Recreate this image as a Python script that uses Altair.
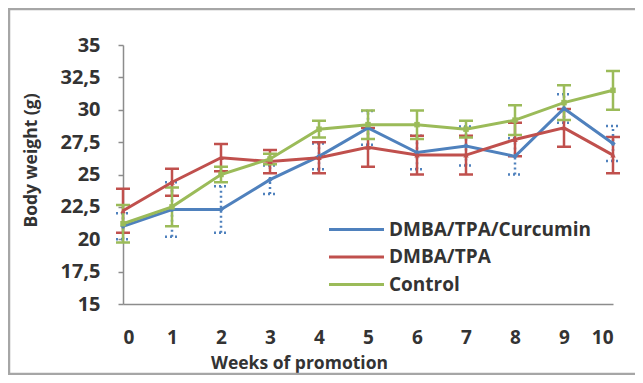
import altair as alt
import pandas as pd

weeks = [0, 1, 2, 3, 4, 5, 6, 7, 8, 9, 10]
series_names = ["DMBA/TPA/Curcumin", "DMBA/TPA", "Control"]
colors = ["#4F81BD", "#C0504D", "#9BBB59"]
shapes = ["diamond", "triangle-up", "square"]
dashes = [[2, 3], [1, 0], [1, 0]]

curcumin = [21.0, 22.3, 22.3, 24.6, 26.4, 28.6, 26.7, 27.2, 26.4, 30.1, 27.4]
curcumin_err = [1.0, 2.1, 1.8, 1.1, 1.0, 1.3, 1.3, 1.5, 1.4, 1.1, 1.35]
tpa = [22.2, 24.4, 26.3, 26.0, 26.3, 27.1, 26.5, 26.5, 27.7, 28.6, 26.5]
tpa_err = [1.7, 1.05, 1.05, 0.9, 1.2, 1.5, 1.5, 1.5, 1.3, 1.45, 1.4]
control = [21.2, 22.5, 25.0, 26.2, 28.5, 28.85, 28.85, 28.5, 29.2, 30.55, 31.5]
control_err = [1.45, 1.5, 0.6, 0.4, 0.65, 1.1, 1.1, 0.65, 1.15, 1.35, 1.5]

y_ticks = [15, 17.5, 20, 22.5, 25, 27.5, 30, 32.5, 35]

rows = []
for name, vals, errs in zip(series_names, [curcumin, tpa, control],
                            [curcumin_err, tpa_err, control_err]):
    for w, v, e in zip(weeks, vals, errs):
        rows.append(dict(week=w, series=name, value=v, lo=v - e, hi=v + e))
df = pd.DataFrame(rows)

FONT = "Open Sans"
TXT = "#333333"
W, H = 490, 259

xscale = alt.Scale(domain=[0, 10], nice=False, zero=False)
yscale = alt.Scale(domain=[15, 35], nice=False, zero=False)
cscale = alt.Scale(domain=series_names, range=colors)

x_axis = alt.Axis(values=weeks, title="Weeks of promotion",
                  labelPadding=24, labelFontSize=19, titlePadding=7,
                  titleX=176, format="d")
y_axis = alt.Axis(values=y_ticks, title="Body  weight (g)",
                  labelExpr="replace(format(datum.value, '~g'), '.', ',')",
                  labelPadding=18, titlePadding=19, titleY=115)
legend = alt.Legend(
    title=None, orient="none", legendX=218, legendY=169,
    symbolType="M-2,0H2", symbolSize=756,
    symbolStrokeWidth=3, labelOffset=17, labelLimit=400,
    labelFontSize=19, labelFont=FONT,
    labelFontWeight="bold", labelColor=TXT,
    rowPadding=1.5, padding=0)


def X(field="week:Q"):
    return alt.X(field, scale=xscale, axis=x_axis)


def Y(field):
    return alt.Y(field, scale=yscale, axis=y_axis)


base = alt.Chart(df)
layers = []

# error bars, per series
for name, col, dash in zip(series_names, colors, dashes):
    sub = base.transform_filter(alt.datum.series == name)
    layers.append(sub.mark_rule(strokeWidth=2.5, color=col, strokeDash=dash).encode(
        x=X(), y=Y("lo:Q"), y2="hi:Q"))
    layers.append(sub.mark_rule(strokeWidth=2.5, color=col, strokeDash=dash,
                                xOffset=-7, x2Offset=7).encode(
        x=X(), x2="week:Q", y=Y("hi:Q")))
    layers.append(sub.mark_rule(strokeWidth=2.5, color=col, strokeDash=dash,
                                xOffset=-7, x2Offset=7).encode(
        x=X(), x2="week:Q", y=Y("lo:Q")))

lines = base.mark_line(strokeWidth=3).encode(
    x=X(), y=Y("value:Q"),
    color=alt.Color("series:N", scale=cscale, sort=series_names, legend=legend),
    detail="series:N",
)
layers.append(lines)

for name, col, shp in zip(series_names, colors, shapes):
    layers.append(base.transform_filter(alt.datum.series == name).mark_point(
        filled=True, size=30, opacity=1, color=col, shape=shp).encode(
        x=X(), y=Y("value:Q")))

frame = alt.Chart(alt.Data(values=[{}])).mark_rect(
    fillOpacity=0, stroke="#a6a6a6", strokeWidth=2.5
).encode(
    x=alt.value(-114), x2=alt.value(W + 30),
    y=alt.value(-36), y2=alt.value(H + 70),
)
layers.append(frame)

chart = alt.layer(*layers).properties(
    width=W, height=H,
    autosize=alt.AutoSizeParams(type="none"),
    padding={"left": 115, "top": 37, "right": 22, "bottom": 71},
).configure_view(stroke=None).configure_axis(
    grid=False,
    domainColor="#8c8c8c", domainWidth=1.5,
    tickColor="#8c8c8c", tickSize=5, tickWidth=1.5,
    labelFont=FONT, labelFontSize=20, labelFontWeight="bold", labelColor=TXT,
    titleFont=FONT, titleFontSize=17.5, titleFontWeight="bold", titleColor=TXT,
).configure_axisX(ticks=False)

chart.save("out.html", embed_options={"renderer": "svg", "actions": False})
